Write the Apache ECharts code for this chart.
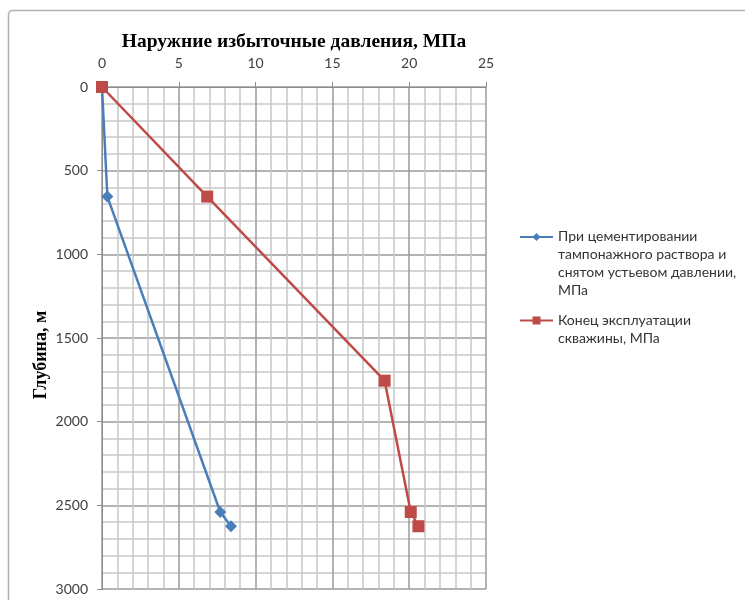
<!DOCTYPE html>
<html>
<head>
<meta charset="utf-8">
<script src="https://cdn.jsdelivr.net/npm/echarts@6/dist/echarts.min.js"></script>
<style>
  html, body { margin: 0; padding: 0; background: #fff; }
  #chart { width: 745px; height: 600px; }
</style>
</head>
<body>
<div id="chart"></div>
<script>
// Depths (m) at which the pressures were computed
const depthsCement = [0, 655, 2540, 2625];
const depthsExploit = [0, 655, 1755, 2540, 2625];

// External excess pressure, MPa
const pressureCement = [0, 0.35, 7.7, 8.4];
const pressureExploit = [0, 6.85, 18.4, 20.1, 20.6];

const seriesNames = [
  'При цементировании тампонажного раствора и снятом устьевом давлении, МПа',
  'Конец эксплуатации скважины, МПа'
];
const legendLines = [
  ['При цементировании', 'тампонажного раствора и', 'снятом устьевом давлении,', 'МПа'],
  ['Конец эксплуатации', 'скважины, МПа']
];

const xTitle = 'Наружние избыточные давления, МПа';
const yTitle = 'Глубина, м';

function pairs(xs, ys) {
  return xs.map((x, i) => [x, ys[i]]);
}

const labelFont = 'Lato, "Open Sans", sans-serif';
const serifFont = '"Liberation Serif", "DejaVu Serif", serif';
const legendLineHeight = 17.7;

const chart = echarts.init(document.getElementById('chart'), null, { renderer: 'canvas' });

chart.setOption({
  backgroundColor: '#fff',
  animation: false,
  grid: { left: 102, top: 87, width: 384, height: 502, containLabel: false },
  xAxis: {
    type: 'value',
    position: 'top',
    min: 0, max: 25, interval: 5,
    name: xTitle,
    nameLocation: 'middle',
    nameGap: 35,
    nameMoveOverlap: false,
    nameTextStyle: { fontFamily: serifFont, fontWeight: 'bold', fontSize: 19.5, color: '#000' },
    axisLine: { show: true, lineStyle: { color: '#8c8c8c', width: 1 } },
    axisTick: { show: true, length: 5, lineStyle: { color: '#8c8c8c' } },
    axisLabel: { margin: 17, fontFamily: labelFont, fontSize: 14, color: '#404040' },
    splitLine: { show: true, lineStyle: { color: '#9a9a9a', width: 1.5 } },
    minorTick: { show: false, splitNumber: 5 },
    minorSplitLine: { show: true, lineStyle: { color: '#c8c8c8', width: 1.5 } }
  },
  yAxis: {
    type: 'value',
    inverse: true,
    min: 0, max: 3000, interval: 500,
    name: yTitle,
    nameLocation: 'middle',
    nameGap: 52,
    nameMoveOverlap: false,
    nameTextStyle: {
      fontFamily: serifFont, fontWeight: 'bold', fontSize: 18, color: '#000',
      padding: [0, 34, 0, 0]
    },
    axisLine: { show: true, lineStyle: { color: '#8c8c8c', width: 1 } },
    axisTick: { show: true, length: 5, lineStyle: { color: '#8c8c8c' } },
    axisLabel: {
      margin: 14, fontFamily: labelFont, fontSize: 14, color: '#404040',
      formatter: function (v) { return String(v); }
    },
    splitLine: { show: true, lineStyle: { color: '#9a9a9a', width: 1.5 } },
    minorTick: { show: false, splitNumber: 5 },
    minorSplitLine: { show: true, lineStyle: { color: '#c8c8c8', width: 1.5 } }
  },
  legend: {
    orient: 'vertical',
    left: 514,
    top: 170,
    itemWidth: 33,
    itemHeight: 10,
    itemGap: -5,
    selectedMode: false,
    formatter: function (name) {
      const idx = seriesNames.indexOf(name);
      return legendLines[idx].join('\n');
    },
    textStyle: {
      fontFamily: labelFont,
      fontSize: 14,
      color: '#333',
      lineHeight: legendLineHeight,
      padding: [0, 0, 0, 0],
      rich: {}
    },
    data: [
      { name: seriesNames[0], textStyle: { padding: [legendLineHeight * 3, 0, 0, 0] } },
      { name: seriesNames[1], textStyle: { padding: [legendLineHeight, 0, 0, 0] } }
    ]
  },
  graphic: [
    {
      type: 'rect',
      shape: { x: 8.5, y: 10.5, width: 760, height: 620, r: 4 },
      style: { fill: 'none', stroke: '#b0b0b0', lineWidth: 1.5 },
      silent: true,
      z: 0
    }
  ],
  series: [
    {
      name: seriesNames[0],
      type: 'line',
      data: pairs(pressureCement, depthsCement),
      symbol: 'diamond',
      symbolSize: 12,
      showAllSymbol: true,
      lineStyle: { color: '#4a7ebb', width: 2.5 },
      itemStyle: { color: '#4a7ebb' },
      z: 3
    },
    {
      name: seriesNames[1],
      type: 'line',
      data: pairs(pressureExploit, depthsExploit),
      symbol: 'rect',
      symbolSize: 12,
      showAllSymbol: true,
      lineStyle: { color: '#be4b48', width: 2.5 },
      itemStyle: { color: '#be4b48' },
      z: 4
    }
  ]
});
</script>
</body>
</html>
